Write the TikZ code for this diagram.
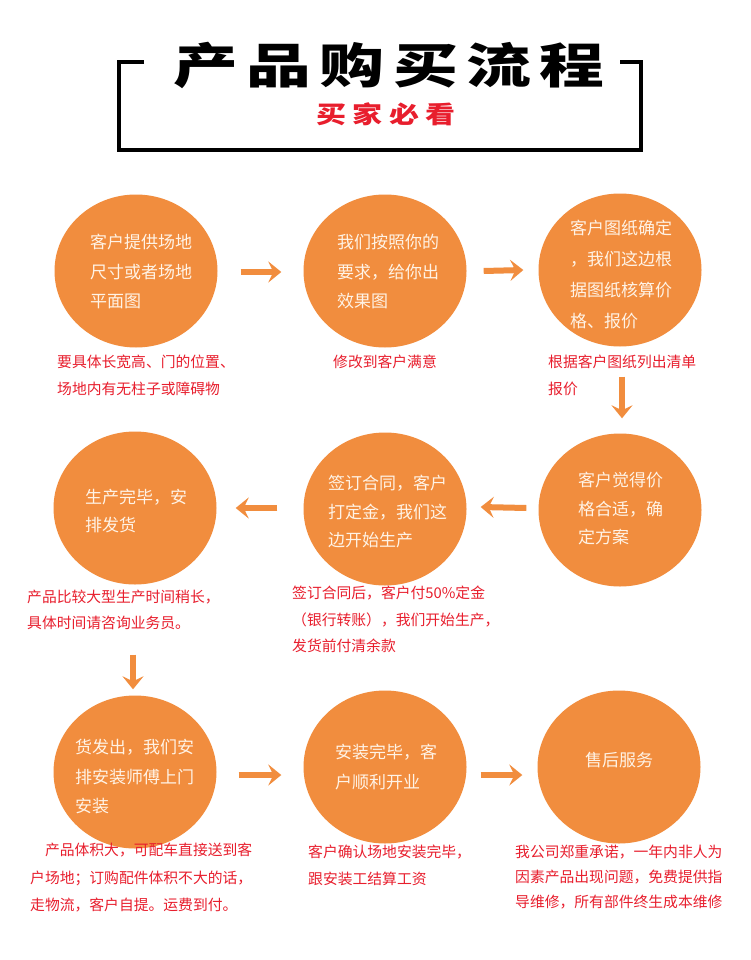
\documentclass[tikz,border=0pt]{standalone}
\usepackage{fontspec}
\setmainfont{Noto Sans CJK SC}
\usetikzlibrary{shapes.geometric,arrows.meta,calc}
\definecolor{orng}{RGB}{241,141,62}
\definecolor{cream}{RGB}{255,243,230}
\definecolor{capred}{RGB}{232,30,45}
\begin{document}
\begin{tikzpicture}[x=1pt,y=-1pt,
  circ/.style={ellipse,fill=orng,minimum width=163pt,minimum height=153pt,inner sep=0pt},
  ctext/.style={anchor=north west,inner sep=0pt,align=left,text=cream,font=\fontsize{17}{29.5}\selectfont},
  capnote/.style={anchor=north west,inner sep=0pt,align=left,text=capred,font=\fontsize{14.8}{26.5}\selectfont},
  arr/.style={draw=orng,line width=6pt,-{Stealth[length=13pt,width=21pt,inset=5pt]}}]
\fill[white] (0,0) rectangle (750,960);
\useasboundingbox (0,0) rectangle (750,960);

% title bracket
\draw[line width=4pt,line join=miter] (144,62) -- (119,62) -- (119,150) -- (641,150) -- (641,62) -- (620,62);
\node[font=\fontsize{48}{48}\selectfont\bfseries\addfontfeature{LetterSpace=13},xscale=1.35,inner sep=0pt] (title) at (389,65) {产品购买流程};
\node[font=\fontsize{24}{24}\selectfont\bfseries\addfontfeature{LetterSpace=22},text=capred,xscale=1.25,inner sep=0pt] (sub) at (386,114) {买家必看};

% circles
\node[circ] (c1) at (136,271) {};
\node[circ] (c2) at (385,271) {};
\node[circ] (c3) at (620,270) {};
\node[circ] (c4) at (135,508) {};
\node[circ] (c5) at (385,509) {};
\node[circ] (c6) at (620,510) {};
\node[circ] (c7) at (135,772) {};
\node[circ] (c8) at (385,767) {};
\node[circ] (c9) at (619,767) {};

% circle texts
\node[ctext] (t1) at (90,234) {客户提供场地\\尺寸或者场地\\平面图};
\node[ctext] (t2) at (337,234) {我们按照你的\\要求，给你出\\效果图};
\node[ctext,font=\fontsize{17}{31}\selectfont] (t3) at (570,220) {客户图纸确定\\，我们这边根\\据图纸核算价\\格、报价};
\node[ctext,font=\fontsize{17}{28}\selectfont] (t4) at (85,489) {生产完毕，安\\排发货};
\node[ctext,font=\fontsize{17}{28.5}\selectfont] (t5) at (328,475) {签订合同，客户\\打定金，我们这\\边开始生产};
\node[ctext,font=\fontsize{17}{28.5}\selectfont] (t6) at (578,472) {客户觉得价\\格合适，确\\定方案};
\node[ctext] (t7) at (75,739) {货发出，我们安\\排安装师傅上门\\安装};
\node[ctext] (t8) at (335,744) {安装完毕，客\\户顺利开业};
\node[ctext] (t9) at (585,752) {售后服务};

% captions
\node[capnote] (n1) at (57,355) {要具体长宽高、门的位置、\\场地内有无柱子或障碍物};
\node[capnote] (n2) at (333,355) {修改到客户满意};
\node[capnote] (n3) at (548,355) {根据客户图纸列出清单\\报价};
\node[capnote,font=\fontsize{14.8}{25.5}\selectfont] (n4) at (27,590) {产品比较大型生产时间稍长，\\具体时间请咨询业务员。};
\node[capnote] (n5) at (292,586) {签订合同后，客户付50\%定金\\（银行转账），我们开始生产，\\发货前付清余款};
\node[capnote,font=\fontsize{14.8}{27.5}\selectfont] (n7) at (30,843) {\hspace*{1em}产品体积大，可配车直接送到客\\户场地；订购配件体积不大的话，\\走物流，客户自提。运费到付。};
\node[capnote] (n8) at (308,845) {客户确认场地安装完毕，\\跟安装工结算工资};
\node[capnote,font=\fontsize{14.8}{25}\selectfont] (n9) at (515,845) {我公司郑重承诺，一年内非人为\\因素产品出现问题，免费提供指\\导维修，所有部件终生成本维修};

% arrows
\draw[arr] ($(c1.east)+(23,1)$) -- ($(c2.west)+(-22,1)$);
\draw[arr] ($(c2.east)+(17,0)$) -- ($(c3.west)+(-15,0)$);
\draw[arr] ($(c3.south)+(2,30)$) -- ($(c6.north)+(2,-15)$);
\draw[arr] ($(c6.west)+(-12,-2)$) -- ($(c5.east)+(14,-2)$);
\draw[arr] ($(c5.west)+(-26,-1)$) -- ($(c4.east)+(19,0)$);
\draw[arr] ($(c4.south)+(-2,70)$) -- ($(c7.north)+(-2,-6)$);
\draw[arr] ($(c7.east)+(22,3)$) -- ($(c8.west)+(-22,8)$);
\draw[arr] ($(c8.east)+(14,8)$) -- ($(c9.west)+(-15,8)$);
\end{tikzpicture}
\end{document}
